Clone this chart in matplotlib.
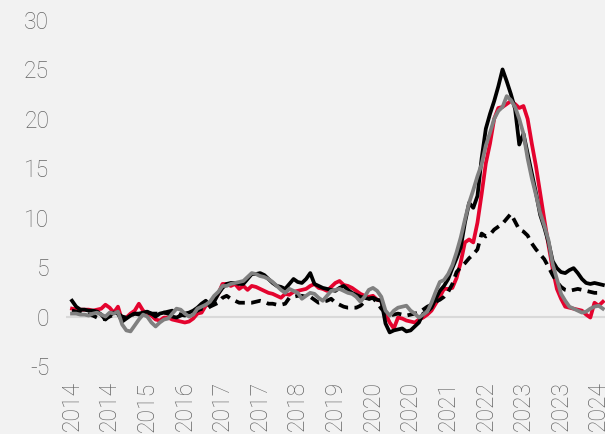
import matplotlib.pyplot as plt

# monthly values, Jan 2014 onwards
black_solid = [
    1.6, 1.0, 0.7, 0.7, 0.6, 0.6, 0.5, 0.2, -0.3, 0.1, 0.4, 0.3,
    -0.5, -0.2, 0.1, 0.3, 0.3, 0.4, 0.5, 0.3, 0.0, 0.3, 0.4, 0.3,
    0.0, -0.1, 0.1, 0.3, 0.4, 0.6, 0.9, 1.3, 1.6, 1.1, 1.5, 2.3,
    2.9, 3.3, 3.4, 3.4, 3.3, 3.3, 3.8, 4.3, 4.3, 4.4, 4.2, 3.8,
    3.4, 3.1, 3.0, 2.8, 3.3, 3.8, 3.5, 3.4, 3.8, 4.4, 3.3, 3.1,
    2.9, 2.8, 2.7, 2.6, 2.9, 3.1, 2.7, 2.4, 2.2, 2.0, 1.9, 1.8,
    1.9, 1.7, 1.6, -0.7, -1.6, -1.4, -1.3, -1.2, -1.5, -1.4, -1.0, -0.6,
    0.3, 0.5, 0.9, 1.8, 2.6, 3.1, 3.8, 4.9, 5.9, 7.0, 9.5, 11.5,
    11.0, 12.2, 16.0, 19.0, 20.5, 21.8, 23.3, 25.0, 23.8, 22.5, 21.0, 17.4,
    18.5, 16.5, 14.5, 12.5, 10.3, 9.0, 7.5, 5.6, 4.9, 4.5, 4.4, 4.7,
    4.9, 4.4, 3.8, 3.4, 3.3, 3.4, 3.3, 3.2,
]
black_dashed = [
    0.6, 0.5, 0.4, 0.3, 0.2, 0.1, -0.1, -0.3, -0.2, 0.0, 0.2, 0.3,
    0.0, -0.1, 0.1, 0.3, 0.2, 0.3, 0.4, 0.3, 0.3, 0.3, 0.4, 0.5,
    0.6, 0.4, 0.2, 0.1, 0.3, 0.4, 0.6, 0.8, 0.7, 1.0, 1.2, 1.4,
    1.9, 2.1, 1.8, 1.6, 1.4, 1.4, 1.4, 1.4, 1.5, 1.6, 1.5, 1.3,
    1.3, 1.2, 1.2, 1.3, 1.9, 2.0, 2.1, 2.1, 2.0, 2.0, 1.7, 1.4,
    1.5, 1.6, 1.8, 1.4, 1.2, 1.0, 0.9, 0.9, 0.9, 1.1, 1.5, 1.8,
    1.9, 1.4, 0.8, 0.4, 0.1, 0.2, 0.3, 0.2, 0.1, 0.2, 0.3, 0.4,
    0.7, 1.0, 1.2, 1.5, 1.7, 2.0, 2.5, 3.3, 4.5, 5.0, 5.4, 5.9,
    6.3, 6.8, 8.4, 8.1, 8.3, 8.8, 9.1, 9.4, 9.9, 10.4, 9.6, 8.8,
    8.6, 8.2, 7.4, 6.8, 6.3, 5.8, 5.0, 4.2, 3.5, 3.0, 2.7, 2.6,
    2.7, 2.8, 2.7, 2.6, 2.5, 2.4, 2.4, 2.4,
]
red = [
    0.8, 0.7, 0.7, 0.7, 0.7, 0.6, 0.7, 0.8, 1.2, 0.9, 0.4, 1.0,
    -0.4, -0.1, 0.3, 0.6, 1.3, 0.6, 0.3, 0.1, -0.3, -0.4, -0.1, -0.1,
    -0.3, -0.4, -0.5, -0.6, -0.5, -0.2, 0.3, 0.4, 1.1, 1.3, 1.7, 2.3,
    3.3, 3.3, 3.1, 3.3, 2.8, 3.1, 2.7, 3.1, 3.0, 2.8, 2.6, 2.4,
    2.3, 2.1, 1.9, 2.3, 2.2, 2.5, 2.6, 2.7, 2.8, 3.1, 3.3, 2.9,
    2.8, 2.6, 3.0, 3.4, 3.6, 3.2, 3.1, 2.9, 2.6, 2.3, 2.1, 2.0,
    2.1, 1.7, 1.6, 0.3, -0.6, -1.2, -0.1, -0.2, -0.4, -0.5, -0.6, -0.3,
    -0.1, 0.2, 0.6, 1.3, 2.0, 2.8, 2.8, 2.9, 3.9, 5.5, 7.5, 7.8,
    7.5, 9.5, 12.4, 15.5, 17.5, 20.0, 21.1, 21.2, 21.5, 21.8, 21.5, 21.1,
    21.3, 20.0, 17.5, 15.2, 12.5, 9.8, 7.2, 4.8, 2.8, 1.8, 1.0, 0.9,
    0.8, 0.7, 0.6, 0.2, -0.1, 1.4, 1.1, 1.5,
]
grey = [
    0.3, 0.3, 0.2, 0.2, 0.1, 0.3, 0.4, 0.2, 0.0, 0.4, 0.3, 0.5,
    -0.8, -1.4, -1.5, -0.9, -0.3, 0.2, 0.0, -0.6, -1.0, -0.6, -0.3, -0.2,
    0.3, 0.8, 0.7, 0.3, 0.0, 0.2, 0.8, 1.0, 1.2, 1.5, 2.1, 2.5,
    3.1, 3.1, 3.3, 3.4, 3.5, 3.6, 4.0, 4.4, 4.3, 4.1, 4.0, 3.8,
    3.5, 3.1, 2.7, 2.4, 2.8, 2.6, 2.4, 1.8, 2.1, 2.4, 2.3, 1.9,
    1.6, 2.1, 2.6, 2.7, 2.8, 2.6, 2.4, 2.3, 2.0, 1.5, 2.0, 2.7,
    2.9, 2.6, 2.0, 0.6, 0.1, 0.6, 0.9, 1.0, 1.1, 0.6, 0.3, -0.1,
    0.2, 0.5, 1.4, 2.5, 3.5, 3.7, 4.3, 5.2, 6.5, 8.0, 9.8, 11.5,
    12.8, 14.2, 15.4, 17.3, 18.6, 20.0, 20.8, 21.2, 22.3, 21.9, 21.2, 20.0,
    18.5, 16.0, 14.0, 12.3, 10.5, 9.2, 7.7, 5.3, 3.8, 2.3, 1.6, 1.0,
    0.8, 0.6, 0.4, 0.5, 0.8, 1.0, 1.1, 0.8,
]

tick_labels = ["2014", "2014", "2015", "2016", "2017", "2017", "2018", "2019",
               "2020", "2020", "2021", "2022", "2023", "2023", "2024"]

bg = "#f2f2f2"
txt = "#666666"
plt.rcParams["font.family"] = ["Roboto", "DejaVu Sans"]
plt.rcParams["axes.unicode_minus"] = False

fig = plt.figure(figsize=(6.05, 4.34), dpi=100, facecolor=bg)
ax = fig.add_axes([66 / 605, 1 - 366 / 434, 1 - 66 / 605, (366 - 20) / 434])
ax.set_facecolor(bg)

months = range(len(black_solid))
ax.axhline(0, color="#d9d9d9", lw=1.5, zorder=1)
ax.plot(months, red, color="#e4032e", lw=2.7, zorder=2)
ax.plot(months, black_solid, color="black", lw=2.7, zorder=3)
ax.plot(months, black_dashed, color="black", lw=2.7, dashes=(2.6, 1.7), zorder=4)
ax.plot(months, grey, color="#808080", lw=2.7, zorder=5)

ax.set_xlim(-6 / 4.18, (605 - 72) / 4.18)
ax.set_ylim(-5, 30)
ax.set_yticks(range(-5, 31, 5))
ax.set_xticks(range(0, 9 * len(tick_labels), 9))
ax.set_xticklabels(tick_labels, rotation=90, va="top")

ax.tick_params(axis="y", length=0, pad=12, labelsize=16.5, labelcolor=txt)
ax.tick_params(axis="x", length=0, pad=11, labelsize=16.5, labelcolor=txt)
for lab in ax.get_xticklabels() + ax.get_yticklabels():
    lab.set_fontweight("light")
for s in ax.spines.values():
    s.set_visible(False)

fig.savefig("out.png", dpi=100, facecolor=bg)
